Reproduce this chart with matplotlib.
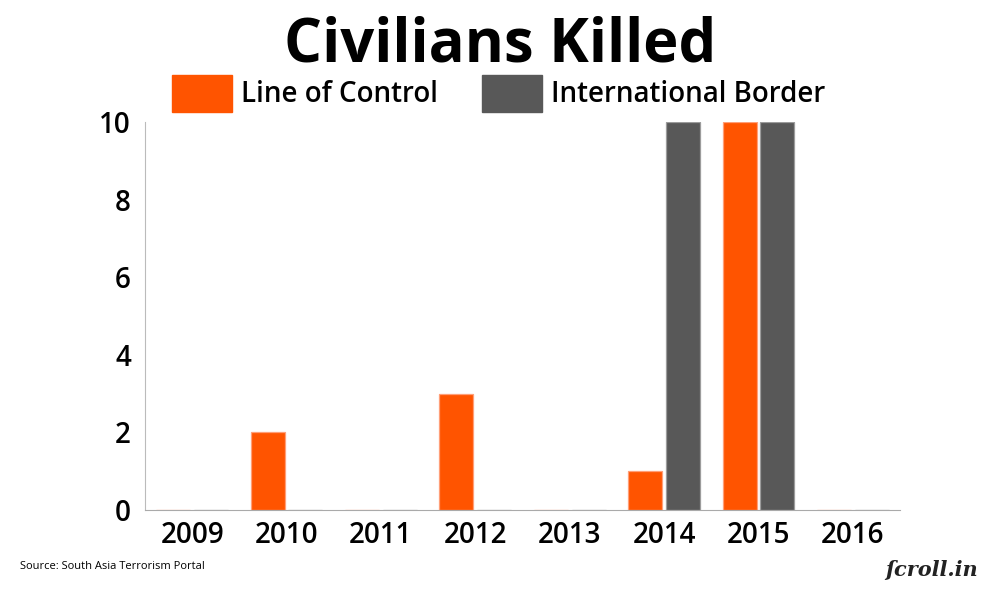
import numpy as np
import matplotlib.pyplot as plt
from matplotlib.patches import Rectangle

years = ["2009", "2010", "2011", "2012", "2013", "2014", "2015", "2016"]
line_of_control = [0, 2, 0, 3, 0, 1, 10, 0]
international_border = [0, 0, 0, 0, 0, 10, 10, 0]

orange = "#ff5400"
grey = "#585858"

plt.rcParams['font.family'] = ['Open Sans', 'DejaVu Sans']

fig = plt.figure(figsize=(10, 6.01), dpi=100)
ax = fig.add_axes([0.145, 0.1514, 0.755, 0.6456])

ind = np.arange(len(years))
w = 0.36
ax.bar(ind - 0.2, line_of_control, width=w, color=orange, edgecolor="#ff9f78", linewidth=0.9)
ax.bar(ind + 0.2, international_border, width=w, color=grey, edgecolor="#9c9c9c", linewidth=0.9)

ax.set_xlim(-0.5, len(years) - 0.5)
ax.set_ylim(0, 10)
ax.set_yticks([0, 2, 4, 6, 8, 10])
ax.set_xticks(ind)
ax.set_xticklabels(years, fontsize=20, fontweight="semibold")
for lab in ax.get_yticklabels():
    lab.set_fontsize(20)
    lab.set_fontweight("semibold")
ax.tick_params(length=0)
ax.tick_params(axis="x", pad=8)
ax.tick_params(axis="y", pad=10)
for s in ["top", "right"]:
    ax.spines[s].set_visible(False)
ax.spines["left"].set_color("#bbbbbb")
ax.spines["bottom"].set_color("#aaaaaa")

fig.text(0.5, 0.924, "Civilians Killed", ha="center", va="center", fontsize=43, fontweight="bold")

# legend drawn by hand
fig.patches.append(Rectangle((0.172, 0.8136), 0.06, 0.0616, transform=fig.transFigure, color=orange))
fig.text(0.241, 0.843, "Line of Control", va="center", fontsize=20, fontweight="semibold")
fig.patches.append(Rectangle((0.482, 0.8136), 0.06, 0.0616, transform=fig.transFigure, color=grey))
fig.text(0.551, 0.843, "International Border", va="center", fontsize=20, fontweight="semibold")

fig.text(0.02, 0.058, "Source: South Asia Terrorism Portal", va="center", fontsize=8)
fig.text(0.978, 0.052, "\u017fcroll.in", ha="right", va="center", fontsize=15,
         family=["DejaVu Serif"], style="italic", fontweight="bold", color="#222222")

fig.savefig("out.png", dpi=100)
